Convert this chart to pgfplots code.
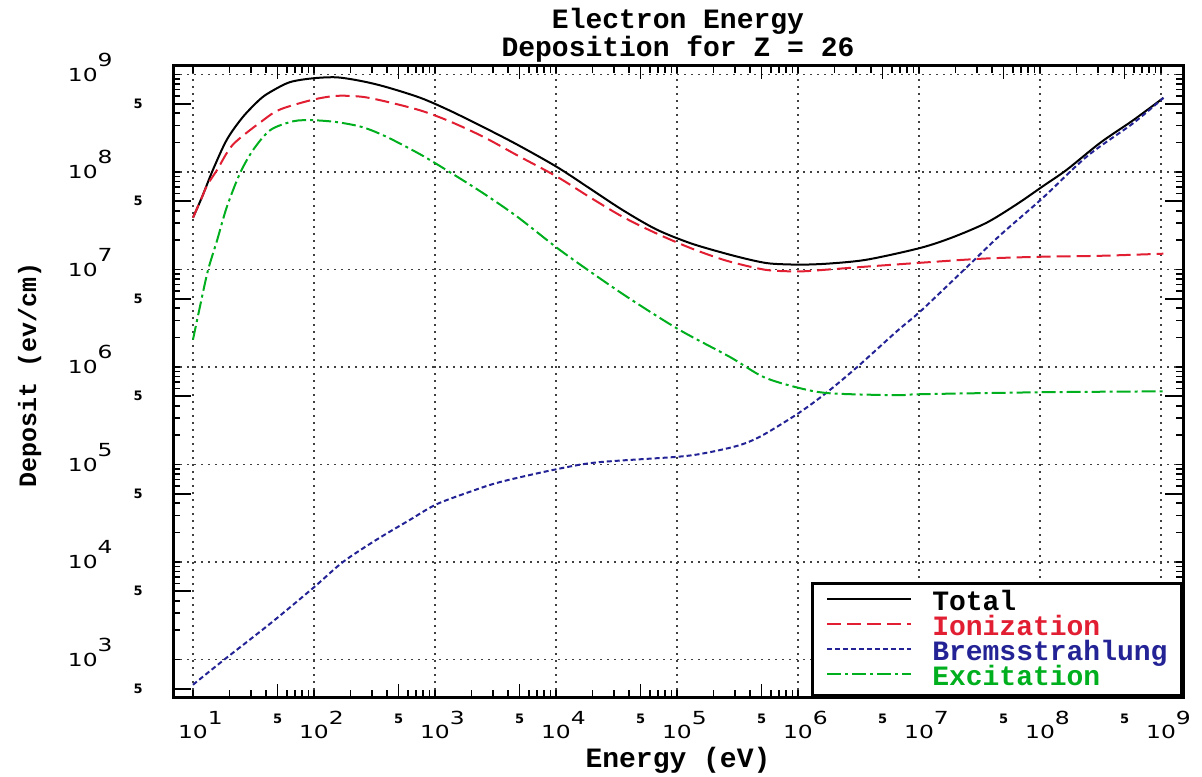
\documentclass[border=0pt]{standalone}
\usepackage{graphicx}
\usepackage{fontspec}
\usepackage{pgfplots}
\pgfplotsset{compat=1.18}
\setmainfont{Liberation Mono}
\newfontfamily\ticksf{DejaVu Sans}

\definecolor{ionred}{RGB}{225,30,50}
\definecolor{brblue}{RGB}{35,35,150}
\definecolor{exgreen}{RGB}{0,175,30}

% decade labels: wide digits, exponent at full size and raised
\newcommand\xpow[1]{{\ticksf\fontsize{9}{9}\selectfont\scalebox{1.3}[1]{10}\rlap{\raisebox{7pt}{\scalebox{1.3}[1]{#1}}}}}
\newcommand\ypow[1]{{\ticksf\fontsize{9}{9}\selectfont\scalebox{1.3}[1]{10}\raisebox{7.5pt}{\scalebox{1.3}[1]{#1}}}}
\newcommand\five{{\ticksf\bfseries\fontsize{6.5}{6.5}\selectfont 5}}

\begin{document}
\begin{tikzpicture}
\useasboundingbox (-86.5pt,-39.5pt) rectangle (514.5pt,348.5pt);
\begin{axis}[
  at={(0,0)}, anchor=south west,
  scale only axis, width=505pt, height=315.5pt,
  xmode=log, ymode=log,
  xmin=6.84, xmax=1.52e9, ymin=412, ymax=1.22e9,
  axis line style={line width=1.5pt},
  tick align=inside,
  every tick/.style={black, line width=0.8pt},
  major tick length=3.5pt, minor tick length=3.5pt,
  grid=major,
  major grid style={dash pattern=on 1pt off 2.5pt, line width=0.7pt, black!75},
  xtick={1e1,1e2,1e3,1e4,1e5,1e6,1e7,1e8,1e9},
  xticklabels={\xpow{1},\xpow{2},\xpow{3},\xpow{4},\xpow{5},\xpow{6},\xpow{7},\xpow{8},\xpow{9}},
  ytick={1e3,1e4,1e5,1e6,1e7,1e8,1e9},
  yticklabels={\ypow{3},\ypow{4},\ypow{5},\ypow{6},\ypow{7},\ypow{8},\ypow{9}},
  xticklabel style={anchor=base, inner sep=0pt, yshift=-20.5pt},
  yticklabel style={anchor=base east, inner sep=0pt, xshift=-30pt, yshift=-3.3pt},
  extra x ticks={50,500,5e3,5e4,5e5,5e6,5e7,5e8},
  extra x tick labels={\five,\five,\five,\five,\five,\five,\five,\five},
  extra x tick style={grid=none, major tick length=6.5pt, xticklabel style={yshift=7.5pt}},
  extra y ticks={500,5e3,5e4,5e5,5e6,5e7,5e8},
  extra y tick labels={\five,\five,\five,\five,\five,\five,\five},
  extra y tick style={grid=none, major tick length=9pt, yticklabel style={xshift=15pt, yshift=1pt}},
  title={Electron Energy\\Deposition for Z = 26},
  title style={font=\bfseries\fontsize{14}{12}\selectfont, align=center,
    at={(axis description cs:0.5,1)}, anchor=south, inner sep=0pt, yshift=-4.5pt},
  xlabel={Energy (eV)},
  xlabel style={font=\bfseries\fontsize{14}{14}\selectfont,
    at={(axis description cs:0.5,-0.111)}, anchor=base},
  ylabel={Deposit (ev/cm)},
  ylabel style={font=\bfseries\fontsize{12.5}{12.5}\selectfont,
    at={(axis description cs:-0.1356,0.51)}, anchor=base, rotate=0},
  legend style={at={(1,0)}, anchor=south east, draw=black, line width=1.5pt,
    fill=white, font=\bfseries\fontsize{14}{14}\selectfont,
    inner xsep=7pt, inner ysep=4pt, row sep=2pt, column sep=10pt,
    nodes={inner sep=0pt, text height=9.5pt, text depth=1pt}},
  legend cell align=left,
  legend image code/.code={\draw[#1] (0pt,1.5pt) -- (42pt,1.5pt);},
]
\addplot[black, line width=1pt, smooth, tension=0.5] coordinates {
(10,3.39e7)(11.86,5.50e7)(14.62,1.05e8)(19.05,2.14e8)(25.70,3.63e8)(35.48,5.50e8)
(43.65,6.61e8)(63.10,8.32e8)(97.72,9.12e8)(154.9,9.33e8)(251.2,8.51e8)(398.1,7.41e8)
(758.6,5.75e8)(1318,4.27e8)(2512,2.88e8)(4786,1.905e8)(1.023e4,1.12e8)(1.905e4,6.76e7)
(3.548e4,4.07e7)(6.761e4,2.57e7)(1.288e5,1.86e7)(2.399e5,1.48e7)(3.981e5,1.26e7)
(5.888e5,1.15e7)(1.047e6,1.12e7)(1.820e6,1.15e7)(3.715e6,1.26e7)(1.023e7,1.66e7)
(1.905e7,2.14e7)(3.631e7,3.02e7)(6.457e7,4.68e7)(1.047e8,7.08e7)(1.660e8,1.05e8)
(3.162e8,2.0e8)(5.888e8,3.39e8)(1.047e9,5.75e8)};
\addlegendentry{Total}
\addplot[ionred, line width=1pt, smooth, tension=0.5, dash pattern=on 7pt off 3pt] coordinates {
(10,3.39e7)(11.86,5.50e7)(13.18,7.41e7)(15.85,1.05e8)(21.38,1.905e8)(38.02,3.39e8)
(52.48,4.37e8)(97.72,5.50e8)(154.9,6.03e8)(251.2,5.89e8)(398.1,5.25e8)(758.6,4.27e8)
(1318,3.31e8)(2512,2.29e8)(4786,1.48e8)(1.023e4,8.91e7)(1.905e4,5.50e7)(3.548e4,3.47e7)
(6.761e4,2.34e7)(1.288e5,1.66e7)(2.399e5,1.26e7)(3.981e5,1.07e7)(5.888e5,9.77e6)
(1.047e6,9.55e6)(1.820e6,1.0e7)(3.715e6,1.07e7)(1.023e7,1.17e7)(3.388e7,1.29e7)
(1.047e8,1.35e7)(3.162e8,1.38e7)(1.047e9,1.45e7)};
\addlegendentry{\textcolor{ionred}{Ionization}}
\addplot[brblue, line width=1pt, smooth, tension=0.5, dash pattern=on 2.5pt off 1.5pt] coordinates {
(10,5.50e2)(17.78,9.77e2)(43.65,2.34e3)(100,5.50e3)(173.8,1.0e4)(331.1,1.70e4)
(616.6,2.69e4)(1023,3.89e4)(1950,5.25e4)(3467,6.61e4)(1.0e4,8.91e4)(2.188e4,1.05e5)
(1.023e5,1.20e5)(1.778e5,1.32e5)(3.311e5,1.58e5)(5.129e5,2.0e5)(1.023e6,3.39e5)
(1.738e6,5.50e5)(3.09e6,1.0e6)(6.607e6,2.34e6)(1.047e7,3.80e6)(2.512e7,1.07e7)
(4.677e7,2.24e7)(1.047e8,5.37e7)(2.455e8,1.45e8)(5.888e8,3.16e8)(1.047e9,5.75e8)};
\addlegendentry{\textcolor{brblue}{Bremsstrahlung}}
\addplot[exgreen, line width=1pt, smooth, tension=0.5, dash pattern=on 7pt off 2pt on 1.5pt off 2pt] coordinates {
(10,1.905e6)(11.43,4.17e6)(13.30,9.77e6)(15.85,2.0e7)(19.05,4.37e7)(24.55,9.77e7)
(31.62,1.70e8)(43.65,2.69e8)(67.61,3.31e8)(97.72,3.39e8)(154.9,3.24e8)(251.2,2.88e8)
(398.1,2.29e8)(758.6,1.51e8)(1318,1.0e8)(2512,6.03e7)(4786,3.47e7)(1.023e4,1.66e7)
(1.905e4,9.55e6)(4.074e4,5.01e6)(1.047e5,2.40e6)(2.754e5,1.26e6)
(5.129e5,7.94e5)(9.772e5,6.17e5)(1.820e6,5.37e5)(6.607e6,5.13e5)(1.023e7,5.25e5)
(1.023e8,5.50e5)(1.047e9,5.62e5)};
\addlegendentry{\textcolor{exgreen}{Excitation}}
\end{axis}
\end{tikzpicture}
\end{document}
